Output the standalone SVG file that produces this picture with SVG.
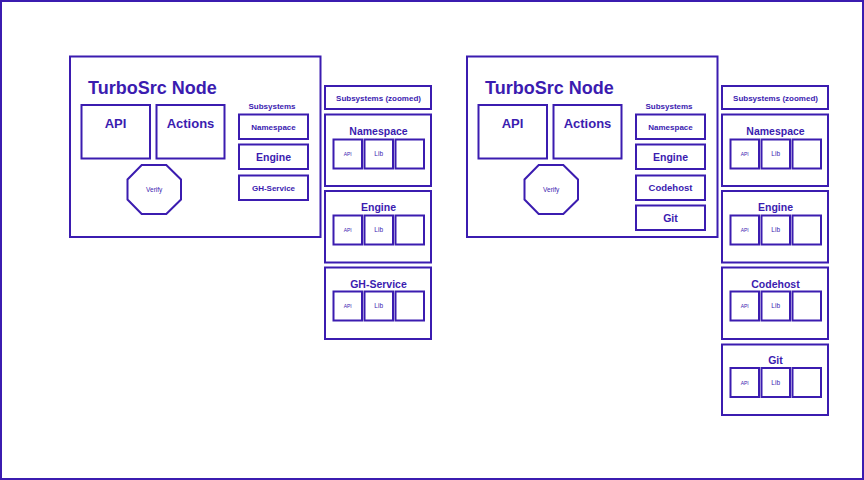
<svg xmlns="http://www.w3.org/2000/svg" width="864" height="480" viewBox="0 0 864 480">
<style>
rect,polygon{fill:none;stroke:#3b1cb0;stroke-width:2}
text{font-family:"Liberation Sans",Arial,sans-serif;fill:#3b1cb0;text-anchor:middle}
.b{font-weight:bold}
.t{font-size:18px;font-weight:bold;text-anchor:start}
.m{font-size:13px;font-weight:bold}
.s8{font-size:8px;font-weight:bold}
.s10{font-size:10.5px;font-weight:bold}
.tiny{font-size:5px}
.lib{font-size:6.5px}
.ver{font-size:6.5px}
</style>
<rect id="frame" x="1" y="1" width="862" height="478"/>
<g id="connectors"></g>

<!-- LEFT -->
<g id="node-left">
<rect x="70" y="56.5" width="250.5" height="180.5"/>
<text class="t" x="88" y="93.5">TurboSrc Node</text>
</g>
<g id="api-left"><rect x="81.5" y="105" width="68.5" height="53.5"/><text class="m" x="115.5" y="127.5">API</text></g>
<g id="actions-left"><rect x="156.5" y="105" width="68" height="53.5"/><text class="m" x="190.5" y="127.5">Actions</text></g>
<g id="verify-left"><polygon points="141.7,165 166.3,165 181,179.5 181,199.5 166.3,214 141.7,214 127.5,199.5 127.5,179.5"/><text class="ver" x="154.2" y="191.8">Verify</text></g>
<g id="subsystems-left">
<text class="s8" x="272" y="108.5">Subsystems</text>
<rect x="239" y="114.5" width="69" height="24.5"/><text class="s8" x="273.5" y="129.7">Namespace</text>
<rect x="239" y="144.5" width="69" height="24.5"/><text class="s10" x="273.5" y="160.8">Engine</text>
<rect x="239" y="175.5" width="69" height="24.5"/><text class="s8" x="273.5" y="190.5">GH-Service</text>
</g>
<g id="zoomed-left">
<rect x="325" y="86" width="106" height="23"/><text class="s8" x="378.5" y="100.5">Subsystems (zoomed)</text>
</g>
<g id="z-namespace-left">
<rect x="325" y="114.5" width="106" height="71.5"/><text class="s10" x="378.5" y="134.5">Namespace</text>
<rect x="333.5" y="139.5" width="28.5" height="29"/><text class="tiny" x="347.7" y="156">API</text>
<rect x="364.5" y="139.5" width="28.5" height="29"/><text class="lib" x="378.7" y="156">Lib</text>
<rect x="395.5" y="139.5" width="28.5" height="29"/>
</g>
<g id="z-engine-left">
<rect x="325" y="191" width="106" height="71.5"/><text class="s10" x="378.5" y="211">Engine</text>
<rect x="333.5" y="215.5" width="28.5" height="29"/><text class="tiny" x="347.7" y="232">API</text>
<rect x="364.5" y="215.5" width="28.5" height="29"/><text class="lib" x="378.7" y="232">Lib</text>
<rect x="395.5" y="215.5" width="28.5" height="29"/>
</g>
<g id="z-ghservice-left">
<rect x="325" y="267.5" width="106" height="71.5"/><text class="s10" x="378.5" y="287.5">GH-Service</text>
<rect x="333.5" y="291.5" width="28.5" height="29"/><text class="tiny" x="347.7" y="308">API</text>
<rect x="364.5" y="291.5" width="28.5" height="29"/><text class="lib" x="378.7" y="308">Lib</text>
<rect x="395.5" y="291.5" width="28.5" height="29"/>
</g>

<!-- RIGHT -->
<g id="node-right">
<rect x="467" y="56.5" width="250.5" height="180.5"/>
<text class="t" x="485" y="93.5">TurboSrc Node</text>
</g>
<g id="api-right"><rect x="478.5" y="105" width="68.5" height="53.5"/><text class="m" x="512.5" y="127.5">API</text></g>
<g id="actions-right"><rect x="553.5" y="105" width="68" height="53.5"/><text class="m" x="587.5" y="127.5">Actions</text></g>
<g id="verify-right"><polygon points="538.7,165 563.3,165 578,179.5 578,199.5 563.3,214 538.7,214 524.5,199.5 524.5,179.5"/><text class="ver" x="551.2" y="191.8">Verify</text></g>
<g id="subsystems-right">
<text class="s8" x="669" y="108.5">Subsystems</text>
<rect x="636" y="114.5" width="69" height="24.5"/><text class="s8" x="670.5" y="129.7">Namespace</text>
<rect x="636" y="144.5" width="69" height="24.5"/><text class="s10" x="670.5" y="160.8">Engine</text>
<rect x="636" y="175.5" width="69" height="24.5"/><text class="s10" style="font-size:9.5px" x="670.5" y="191.2">Codehost</text>
<rect x="636" y="205.5" width="69" height="24.5"/><text class="s10" x="670.5" y="221.5">Git</text>
</g>
<g id="zoomed-right">
<rect x="722" y="86" width="106" height="23"/><text class="s8" x="775.5" y="100.5">Subsystems (zoomed)</text>
</g>
<g id="z-namespace-right">
<rect x="722" y="114.5" width="106" height="71.5"/><text class="s10" x="775.5" y="134.5">Namespace</text>
<rect x="730.5" y="139.5" width="28.5" height="29"/><text class="tiny" x="744.7" y="156">API</text>
<rect x="761.5" y="139.5" width="28.5" height="29"/><text class="lib" x="775.7" y="156">Lib</text>
<rect x="792.5" y="139.5" width="28.5" height="29"/>
</g>
<g id="z-engine-right">
<rect x="722" y="191" width="106" height="71.5"/><text class="s10" x="775.5" y="211">Engine</text>
<rect x="730.5" y="215.5" width="28.5" height="29"/><text class="tiny" x="744.7" y="232">API</text>
<rect x="761.5" y="215.5" width="28.5" height="29"/><text class="lib" x="775.7" y="232">Lib</text>
<rect x="792.5" y="215.5" width="28.5" height="29"/>
</g>
<g id="z-codehost-right">
<rect x="722" y="267.5" width="106" height="71.5"/><text class="s10" x="775.5" y="287.5">Codehost</text>
<rect x="730.5" y="291.5" width="28.5" height="29"/><text class="tiny" x="744.7" y="308">API</text>
<rect x="761.5" y="291.5" width="28.5" height="29"/><text class="lib" x="775.7" y="308">Lib</text>
<rect x="792.5" y="291.5" width="28.5" height="29"/>
</g>
<g id="z-git-right">
<rect x="722" y="344.5" width="106" height="70.5"/><text class="s10" x="775.5" y="364">Git</text>
<rect x="730.5" y="368" width="28.5" height="29"/><text class="tiny" x="744.7" y="384.5">API</text>
<rect x="761.5" y="368" width="28.5" height="29"/><text class="lib" x="775.7" y="384.5">Lib</text>
<rect x="792.5" y="368" width="28.5" height="29"/>
</g>
</svg>
